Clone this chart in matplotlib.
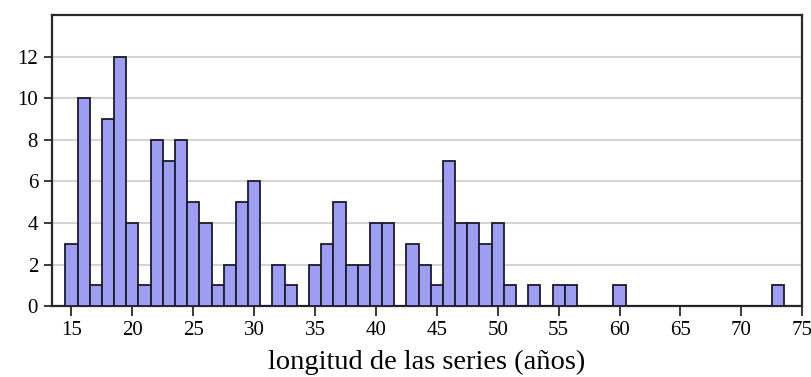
import matplotlib
matplotlib.use("Agg")
import matplotlib.pyplot as plt

years = list(range(15, 74))
counts = [3, 10, 1, 9, 12, 4, 1, 8, 7, 8, 5, 4, 1, 2, 5, 6, 0, 2, 1, 0,
          2, 3, 5, 2, 2, 4, 4, 0, 3, 2, 1, 7, 4, 4, 3, 4, 1, 0, 1, 0,
          1, 1, 0, 0, 0, 1, 0, 0, 0, 0, 0, 0, 0, 0, 0, 0, 0, 0, 1]
xticks = [15, 20, 25, 30, 35, 40, 45, 50, 55, 60, 65, 70, 75]
yticks = [0, 2, 4, 6, 8, 10, 12]
xlabel = "longitud de las series (años)"

plt.rcParams['font.family'] = ['Liberation Serif', 'DejaVu Serif']

fig = plt.figure(figsize=(8.12, 3.77), dpi=100)
ax = fig.add_axes([0.064, 0.188, 0.924, 0.772])

ax.bar(years, counts, width=1.0, color='#9d9df2', edgecolor='#1a1a2e', linewidth=1.3, zorder=3)

ax.set_xlim(13.4, 75)
ax.set_ylim(0, 14)
ax.set_xticks(xticks)
ax.set_yticks(yticks)
ax.yaxis.grid(True, color='#d4d4d4', linewidth=1.5, zorder=0)
ax.set_axisbelow(True)

for s in ax.spines.values():
    s.set_color('#2a2a2a')
    s.set_linewidth(1.6)

ax.tick_params(axis='x', direction='out', length=7, width=1.3, labelsize=15, pad=4, color='#2a2a2a')
ax.tick_params(axis='y', direction='out', length=6, width=1.3, labelsize=15, pad=4, color='#2a2a2a')
ax.set_xlabel(xlabel, fontsize=20.5, labelpad=7)

fig.savefig("out.png", dpi=100)
